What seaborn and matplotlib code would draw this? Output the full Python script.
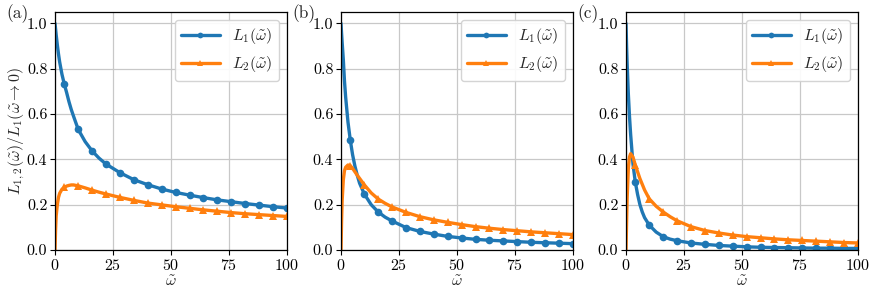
import numpy as np
import pandas as pd
import matplotlib
matplotlib.use("Agg")
import matplotlib.pyplot as plt
import seaborn as sns

# values
omega = [0, 0.25, 0.5, 1, 1.5, 2, 3, 4, 5, 6, 7, 8, 10, 13, 16, 19, 22,
         28, 34, 40, 46, 52, 58, 64, 70, 76, 82, 88, 94, 100]
marker_omega = [4, 10, 16, 22, 28, 34, 40, 46, 52, 58, 64, 70, 76, 82, 88, 94, 100]

L1_a = [1.0, 0.975, 0.95, 0.905, 0.865, 0.83, 0.775, 0.732, 0.695, 0.655, 0.62, 0.59,
        0.532, 0.478, 0.437, 0.405, 0.379, 0.341, 0.31, 0.288, 0.269, 0.254, 0.242,
        0.231, 0.221, 0.213, 0.205, 0.198, 0.191, 0.185]
L2_a = [0.0, 0.09, 0.15, 0.2, 0.232, 0.25, 0.268, 0.276, 0.282, 0.285, 0.287, 0.287,
        0.283, 0.274, 0.264, 0.255, 0.247, 0.232, 0.219, 0.207, 0.199, 0.191, 0.184,
        0.177, 0.171, 0.165, 0.16, 0.156, 0.152, 0.148]

L1_b = [1.0, 0.955, 0.915, 0.84, 0.745, 0.675, 0.565, 0.485, 0.42, 0.37, 0.33, 0.295,
        0.248, 0.2, 0.168, 0.145, 0.128, 0.099, 0.082, 0.07, 0.06, 0.053, 0.047,
        0.043, 0.04, 0.037, 0.034, 0.032, 0.03, 0.028]
L2_b = [0.0, 0.13, 0.22, 0.31, 0.35, 0.365, 0.375, 0.372, 0.36, 0.345, 0.33, 0.316,
        0.288, 0.252, 0.225, 0.206, 0.19, 0.166, 0.147, 0.133, 0.122, 0.112, 0.103,
        0.096, 0.09, 0.085, 0.08, 0.076, 0.072, 0.068]

L1_c = [1.0, 0.9, 0.82, 0.69, 0.59, 0.51, 0.38, 0.3, 0.245, 0.2, 0.168, 0.143,
        0.11, 0.079, 0.059, 0.048, 0.041, 0.031, 0.025, 0.02, 0.017, 0.014, 0.012,
        0.011, 0.01, 0.009, 0.008, 0.008, 0.007, 0.007]
L2_c = [0.0, 0.12, 0.23, 0.36, 0.41, 0.425, 0.41, 0.375, 0.345, 0.315, 0.29, 0.265,
        0.226, 0.193, 0.168, 0.147, 0.129, 0.103, 0.086, 0.075, 0.066, 0.059, 0.054,
        0.049, 0.045, 0.042, 0.039, 0.036, 0.033, 0.031]

panels = [("(a)", L1_a, L2_a), ("(b)", L1_b, L2_b), ("(c)", L1_c, L2_c)]

sns.set_theme(style="ticks", rc={
    "axes.grid": True,
    "grid.color": "#c8c8c8",
    "grid.linewidth": 0.9,
    "axes.edgecolor": "black",
    "axes.linewidth": 0.9,
    "xtick.color": "black",
    "ytick.color": "black",
    "xtick.major.size": 3.5,
    "ytick.major.size": 3.5,
    "xtick.major.width": 0.8,
    "ytick.major.width": 0.8,
})
plt.rcParams["font.family"] = ["serif"]
plt.rcParams["font.serif"] = ["cmr10", "DejaVu Serif"]
plt.rcParams["mathtext.fontset"] = "cm"
plt.rcParams["axes.formatter.use_mathtext"] = True
plt.rcParams["axes.unicode_minus"] = False

fig = plt.figure(figsize=(8.72, 2.93), dpi=100)
lefts = [55, 341, 626]
tag_x = [6, 292, 577]
marks = [i for i, w in enumerate(omega) if w in marker_omega]

for left, tx, (tag, l1, l2) in zip(lefts, tag_x, panels):
    ax = fig.add_axes([left / 872, 43 / 293, 232 / 872, 238 / 293])
    df = pd.DataFrame({"omega": omega, "L1": l1, "L2": l2})
    sns.lineplot(data=df, x="omega", y="L1", ax=ax, color="#1f77b4", lw=2.4,
                 marker="o", ms=5.5, markeredgewidth=0, markevery=marks,
                 label=r"$L_1(\tilde{\omega})$")
    sns.lineplot(data=df, x="omega", y="L2", ax=ax, color="#ff7f0e", lw=2.4,
                 marker="^", ms=6, markeredgewidth=0, markevery=marks,
                 label=r"$L_2(\tilde{\omega})$")
    ax.set_xlim(0, 100)
    ax.set_ylim(0, 1.05)
    ax.set_xticks([0, 25, 50, 75, 100])
    ax.set_yticks([0, 0.2, 0.4, 0.6, 0.8, 1.0])
    ax.set_yticklabels(["0.0", "0.2", "0.4", "0.6", "0.8", "1.0"])
    ax.tick_params(labelsize=11.5, pad=2)
    ax.set_xlabel(r"$\tilde{\omega}$", fontsize=11.5, labelpad=1)
    ax.set_ylabel("")
    ax.legend(loc="upper right", fontsize=11.5, handlelength=2.4,
              framealpha=0.9, edgecolor="#d0d0d0", markerscale=0.75)
    fig.text(tx / 872, 1 - 4 / 293, tag, fontsize=12.5, ha="left", va="top")
    if tag == "(a)":
        ax.set_ylabel(r"$L_{1,2}(\tilde{\omega})/L_1(\tilde{\omega}\rightarrow 0)$",
                      fontsize=11.5, labelpad=0)

fig.savefig("out.png", dpi=100)
